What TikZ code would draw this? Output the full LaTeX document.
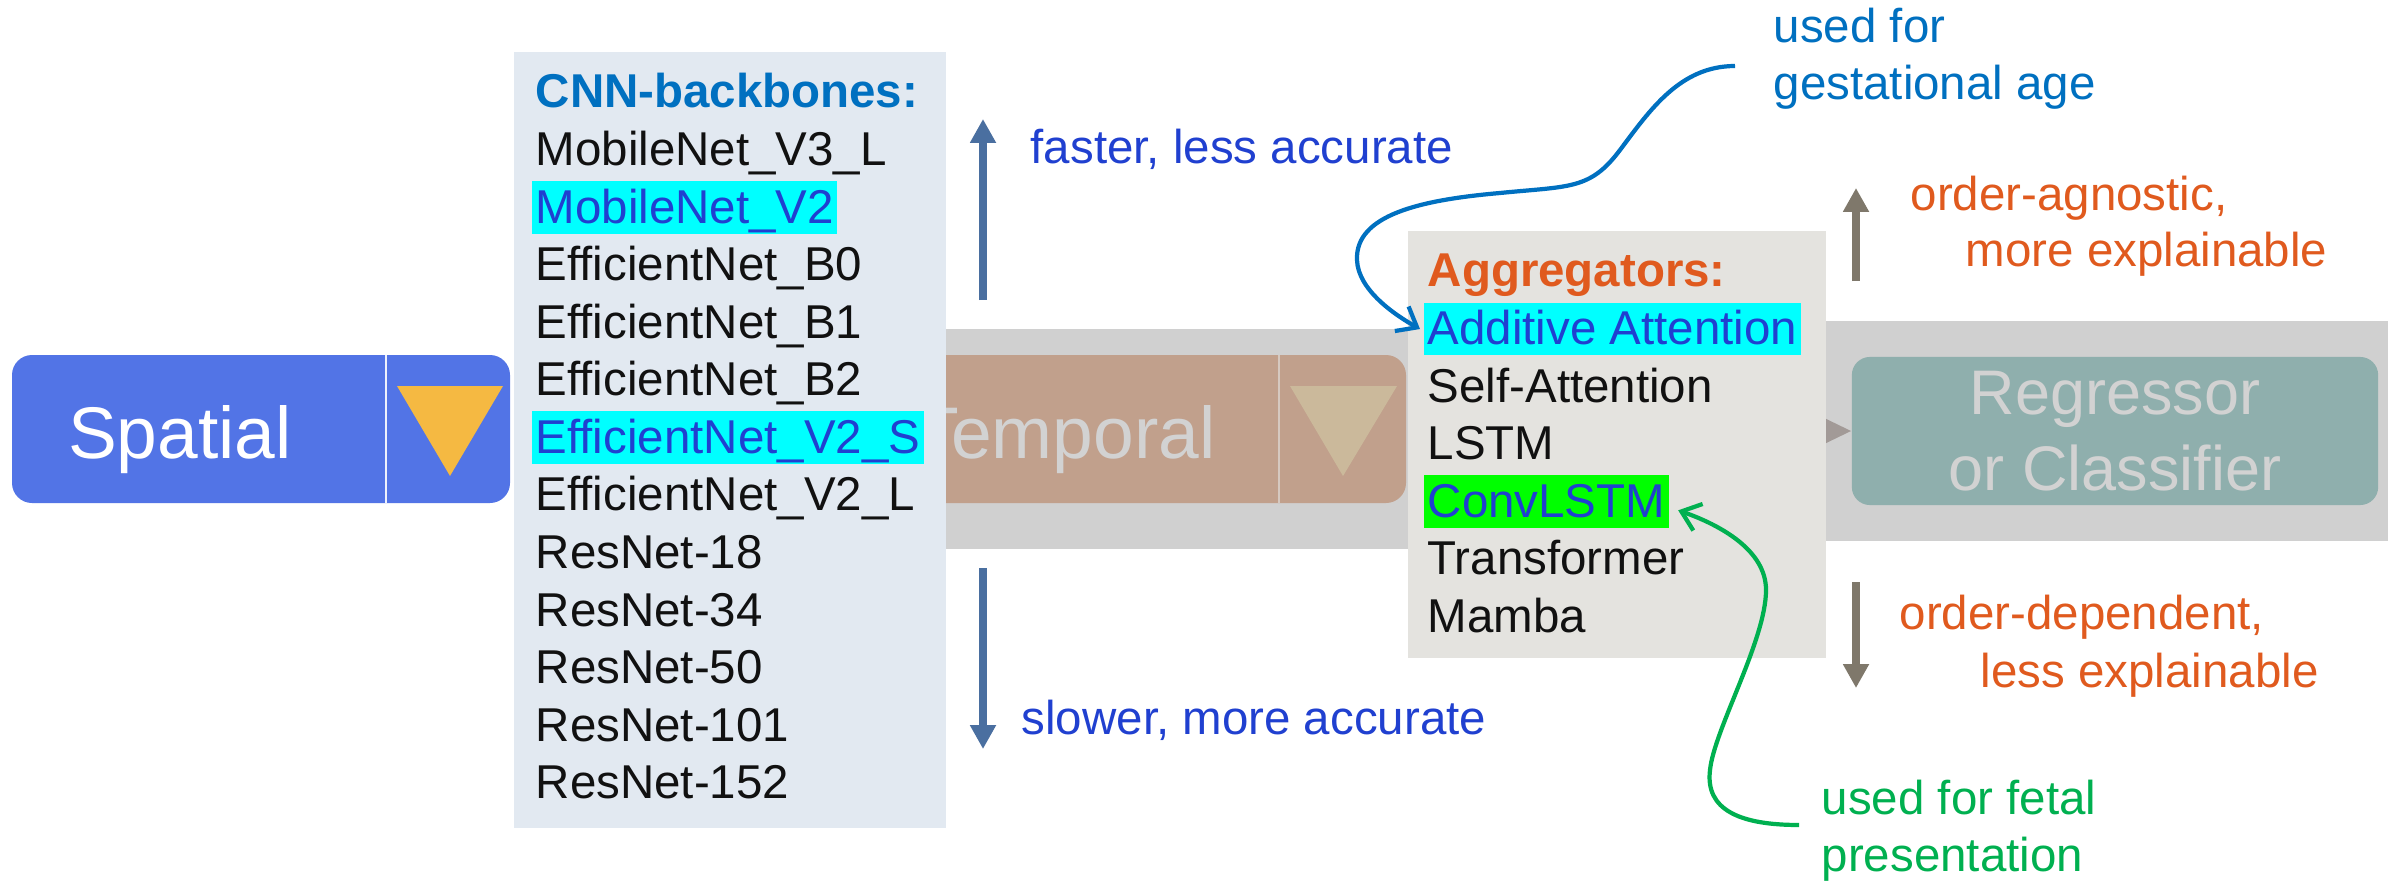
\documentclass[tikz,border=0pt]{standalone}
\usepackage{fontspec}
\setmainfont{Liberation Sans}
\usetikzlibrary{arrows.meta}
\definecolor{spblue}{HTML}{5274E6}
\definecolor{sptri}{HTML}{F5B942}
\definecolor{tmpbox}{HTML}{C1A08C}
\definecolor{tmptri}{HTML}{CBB99B}
\definecolor{tmpdiv}{HTML}{D6C9C0}
\definecolor{fadetext}{HTML}{D2D2D2}
\definecolor{band}{HTML}{D0D0D0}
\definecolor{regbox}{HTML}{8FAFAD}
\definecolor{smalltri}{HTML}{A29A97}
\definecolor{cnnbg}{HTML}{E2E9F1}
\definecolor{aggbg}{HTML}{E4E3DF}
\definecolor{hdblue}{HTML}{0070C0}
\definecolor{hdorange}{HTML}{E05A1E}
\definecolor{hlblue}{HTML}{2040D0}
\definecolor{hlcyan}{HTML}{00FFFF}
\definecolor{hlgreen}{HTML}{00FF00}
\definecolor{notegreen}{HTML}{00B050}
\definecolor{arrblue}{HTML}{4A6FA0}
\definecolor{arrbrown}{HTML}{7F786B}
\definecolor{lstblack}{HTML}{111111}
\begin{document}
\begin{tikzpicture}[x=0.01cm,y=-0.01cm,
  txt/.style={font=\fontsize{13.5pt}{16.2pt}\selectfont},
  lst/.style={txt, anchor=base west, inner xsep=1pt, inner ysep=0pt,
    text height=11.9pt, text depth=3.1pt, text=lstblack},
  hlc/.style={fill=hlcyan, text=hlblue},
  hlg/.style={fill=hlgreen, text=hlblue},
  note/.style={txt, anchor=base west, inner sep=0pt},
  modtxt/.style={font=\fontsize{20.8pt}{25pt}\selectfont, inner sep=0pt},
  bigarrow/.style={line width=2.1pt, -{Triangle[length=6.8pt,width=7pt]}},
  curvearrow/.style={line width=1.2pt, -{Straight Barb[length=5pt,width=8pt]}}
]
\useasboundingbox (0,0) rectangle (2400,882);
\fill[white] (0,0) rectangle (2400,882);

% background bands
\fill[band] (1800,321) rectangle (2388,541);
\fill[band] (890,329) rectangle (1420,549);

% temporal module (faded)
\fill[tmpbox, rounded corners=0.2cm] (890,355) rectangle (1406,503);
\draw[tmpdiv, line width=0.6pt] (1279,355) -- (1279,503);
\fill[tmptri] (1290,386) -- (1397,386) -- (1343,476) -- cycle;
\node[modtxt, text=fadetext, anchor=base east] (temporal) at (1216,458) {Temporal};

% small connector triangle
\fill[smalltri] (1818,415) -- (1851,431) -- (1818,447) -- cycle;

% regressor module (faded)
\node[fill=regbox, rounded corners=0.18cm, minimum width=5.26cm, minimum height=1.48cm,
  align=center, text=fadetext, font=\fontsize{17.9pt}{21.6pt}\selectfont, inner sep=0pt]
  (regressor) at (2115,431) {Regressor\\or Classifier};

% spatial module
\fill[spblue, rounded corners=0.2cm] (12,355) rectangle (510,503);
\draw[white!90!spblue, line width=0.7pt] (386,355) -- (386,503);
\fill[sptri] (397,386) -- (503,386) -- (450,476) -- cycle;
\node[modtxt, text=white, anchor=base] (spatial) at (180,458) {Spatial};

% CNN backbones
\fill[cnnbg] (514,52) rectangle (946,828);
\node[lst, font=\fontsize{13.5pt}{16.2pt}\selectfont\bfseries, text=hdblue] (cnnhead) at (531.5,108) {CNN-backbones:};
\node[lst] (cnn1) at (531.5,165.6) {MobileNet\_V3\_L};
\node[lst, hlc] (cnn2) at (531.5,223.1) {MobileNet\_V2};
\node[lst] (cnn3) at (531.5,280.7) {EfficientNet\_B0};
\node[lst] (cnn4) at (531.5,338.2) {EfficientNet\_B1};
\node[lst] (cnn5) at (531.5,395.8) {EfficientNet\_B2};
\node[lst, hlc] (cnn6) at (531.5,453.3) {EfficientNet\_V2\_S};
\node[lst] (cnn7) at (531.5,510.9) {EfficientNet\_V2\_L};
\node[lst] (cnn8) at (531.5,568.4) {ResNet-18};
\node[lst] (cnn9) at (531.5,626.0) {ResNet-34};
\node[lst] (cnn10) at (531.5,683.6) {ResNet-50};
\node[lst] (cnn11) at (531.5,741.1) {ResNet-101};
\node[lst] (cnn12) at (531.5,798.7) {ResNet-152};

% Aggregators
\fill[aggbg] (1408,231) rectangle (1826,658);
\node[lst, font=\fontsize{13.5pt}{16.2pt}\selectfont\bfseries, text=hdorange] (agghead) at (1423.5,287) {Aggregators:};
\node[lst, hlc] (agg1) at (1423.5,344.5) {Additive Attention};
\node[lst] (agg2) at (1423.5,402) {Self-Attention};
\node[lst] (agg3) at (1423.5,459.5) {LSTM};
\node[lst, hlg] (agg4) at (1423.5,517) {ConvLSTM};
\node[lst] (agg5) at (1423.5,574.5) {Transformer};
\node[lst] (agg6) at (1423.5,632) {Mamba};

% speed / accuracy arrows
\coordinate (upS) at (983,300);
\coordinate (upT) at (983,119);
\coordinate (dnS) at (983,568);
\coordinate (dnT) at (983,749);
\draw[bigarrow, arrblue] (upS) -- (upT);
\draw[bigarrow, arrblue] (dnS) -- (dnT);
\node[note, text=hlblue] (faster) at (1030,163) {faster, less accurate};
\node[note, text=hlblue] (slower) at (1021,734) {slower, more accurate};

% order arrows
\coordinate (oupS) at (1856,281);
\coordinate (oupT) at (1856,188);
\coordinate (odnS) at (1856,582);
\coordinate (odnT) at (1856,688);
\draw[bigarrow, arrbrown] (oupS) -- (oupT);
\draw[bigarrow, arrbrown] (odnS) -- (odnT);
\node[note, text=hdorange] (oa1) at (1910,211) {order-agnostic,};
\node[note, text=hdorange] (oa2) at (1965,267) {more explainable};
\node[note, text=hdorange] (od1) at (1899,629) {order-dependent,};
\node[note, text=hdorange] (od2) at (1980,687) {less explainable};

% notes with curved arrows
\node[note, text=hdblue] (ga1) at (1773,43) {used for};
\node[note, text=hdblue] (ga2) at (1773,100) {gestational age};
\node[note, text=notegreen] (fp1) at (1821,814) {used for fetal};
\node[note, text=notegreen] (fp2) at (1821,871) {presentation};

\coordinate (gaS) at (1735,66);
\coordinate (agg1in) at ([xshift=-1pt]agg1.west);
\draw[curvearrow, hdblue] (gaS)
  .. controls (1680,66) and (1650,110) .. (1620,150)
  .. controls (1590,190) and (1570,186) .. (1500,193)
  .. controls (1420,200) and (1355,215) .. (1357,260)
  .. controls (1358,290) and (1395,315) .. (agg1in);

\coordinate (fpS) at (1799,825);
\coordinate (agg4in) at ([xshift=2.5pt, yshift=-2.5pt]agg4.east);
\draw[curvearrow, notegreen] (fpS)
  .. controls (1740,825) and (1705,810) .. (1710,770)
  .. controls (1714,730) and (1766,640) .. (1766,590)
  .. controls (1766,550) and (1720,525) .. (agg4in);
\end{tikzpicture}
\end{document}
